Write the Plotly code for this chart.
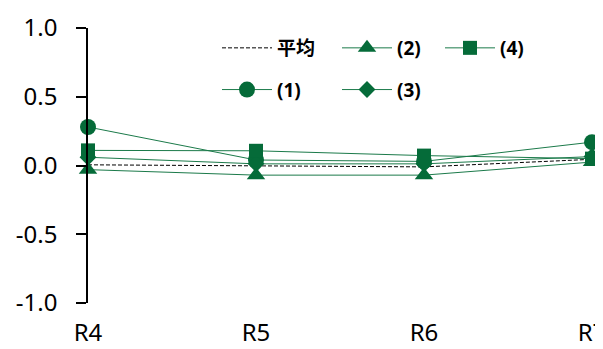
import plotly.graph_objects as go

categories = ["R4", "R5", "R6", "R7"]
avg_vals = [0.005, -0.005, -0.01, 0.045]
s1_vals = [0.28, 0.04, 0.03, 0.17]
s2_vals = [-0.03, -0.07, -0.07, 0.025]
s3_vals = [0.06, 0.012, 0.012, 0.065]
s4_vals = [0.11, 0.107, 0.072, 0.05]
y_ticks = [-1.0, -0.5, 0.0, 0.5, 1.0]
y_ticktext = ["-1.0", "-0.5", "0.0", "0.5", "1.0"]

GREEN = "#056B39"
LINE_GREEN = "#1B7A4A"
FONT = "Noto Sans, Noto Sans CJK SC, sans-serif"

x = list(range(len(categories)))

fig = go.Figure()

def add(name, vals, symbol, size, legend, group, dash=None, color=LINE_GREEN, marker=True):
    fig.add_trace(go.Scatter(
        x=x, y=vals, name=name,
        mode="lines+markers" if marker else "lines",
        line=dict(color=color, width=1, dash=dash) if dash else dict(color=color, width=1),
        marker=dict(symbol=symbol, size=size, color=GREEN) if marker else None,
        cliponaxis=False,
        legend=legend, legendgroup=group,
    ))

add("平均", avg_vals, None, 0, "legend", "g0", dash="4px,2px", color="black", marker=False)
add("(1)", s1_vals, "circle", 16, "legend", "g1")
add("(2)", s2_vals, "triangle-up", 16, "legend2", "g2")
add("(3)", s3_vals, "diamond", 13, "legend2", "g3")
add("(4)", s4_vals, "square", 14, "legend3", "g4")

# page body margin offsets the figure by 8px; positions below are in figure pixels
OFF = 8
PL, PR = 88 - OFF, 592 - OFF
PT, PB = 28 - OFF, 303 - OFF
W, H = 603, 349
def px(p):
    return (p - OFF - PL) / (PR - PL)
def py(p):
    return (PB - (p - OFF)) / (PB - PT)

leg_common = dict(
    orientation="v", yanchor="top", xanchor="left",
    font=dict(family=FONT, size=19, color="black", weight="bold"),
    bgcolor="rgba(0,0,0,0)", borderwidth=0, tracegroupgap=14,
    traceorder="grouped", itemwidth=50,
)

fig.update_layout(
    width=W, height=H,
    margin=dict(l=PL, r=W - PR, t=PT, b=H - PB, pad=0, autoexpand=False),
    plot_bgcolor="white", paper_bgcolor="white",
    showlegend=True,
    legend=dict(x=px(217), y=py(29), **leg_common),
    legend2=dict(x=px(337), y=py(29), **leg_common),
    legend3=dict(x=px(440), y=py(29), **leg_common),
    font=dict(family=FONT, color="black"),
)

fig.update_xaxes(
    range=[0, 3], tickmode="array", tickvals=x, ticktext=categories,
    showline=False, showgrid=False, zeroline=False, ticks="",
    tickfont=dict(family=FONT, size=24, color="black"),
    ticklabelstandoff=13, automargin=False, ticklabeloverflow="allow",
)
fig.update_yaxes(
    range=[-1, 1], tickmode="array", tickvals=y_ticks, ticktext=y_ticktext,
    showline=True, linecolor="black", linewidth=1.5,
    showgrid=False, zeroline=False,
    ticks="outside", ticklen=10, tickwidth=1.5, tickcolor="black",
    tickfont=dict(family=FONT, size=24, color="black"),
    ticklabelstandoff=14, automargin=False, ticklabeloverflow="allow",
)

fig.write_html("out.html")
